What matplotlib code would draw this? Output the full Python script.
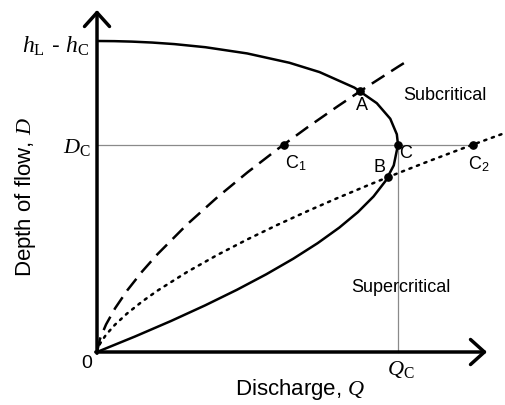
import matplotlib
matplotlib.use("Agg")
import matplotlib.pyplot as plt

plt.rcParams['font.family'] = ['Liberation Sans', 'DejaVu Sans']
plt.rcParams['mathtext.fontset'] = 'custom'
plt.rcParams['mathtext.rm'] = 'Liberation Serif'
plt.rcParams['mathtext.it'] = 'Liberation Serif:italic'
plt.rcParams['mathtext.sf'] = 'Liberation Sans'

# ---- data (Q normalised so Q_C = 1, D normalised so h_L - h_C = 1) ----
D_C = 0.6667
Q_C = 1.0

# solid curve (Q, D)
solid_D = [0, 0.05, 0.1, 0.15, 0.2, 0.25, 0.3, 0.35, 0.4, 0.45, 0.5, 0.55, 0.6,
           0.6667, 0.7, 0.75, 0.8, 0.85, 0.9, 0.93, 0.96, 0.98, 0.99, 0.995,
           0.998, 0.9995, 1.0]
solid_Q = [0, 0.1266, 0.2465, 0.3593, 0.4648, 0.5625, 0.6521, 0.7331, 0.8050,
           0.8671, 0.9186, 0.9586, 0.9859, 1.0, 0.9961, 0.9743, 0.9296, 0.8553,
           0.7394, 0.6392, 0.4988, 0.3601, 0.2572, 0.1828, 0.1160, 0.0581, 0]

# dashed curve
dash_Q = [0, 0.01, 0.03, 0.06, 0.1, 0.15, 0.2, 0.3, 0.4, 0.5, 0.6, 0.7, 0.8,
          0.875, 0.9, 1.0, 1.04]
dash_D = [0, 0.0426, 0.0885, 0.1405, 0.1976, 0.2589, 0.3136, 0.4109, 0.4978,
          0.5777, 0.6524, 0.7230, 0.7903, 0.8389, 0.8548, 0.917, 0.9413]

# dotted curve
dot_Q = [0, 0.01, 0.03, 0.06, 0.1, 0.15, 0.2, 0.3, 0.4, 0.5, 0.6, 0.7, 0.8,
         0.9, 0.967, 1.0, 1.1, 1.2, 1.249, 1.3, 1.36]
dot_D = [0, 0.0267, 0.0555, 0.0881, 0.1239, 0.1623, 0.1967, 0.2577, 0.3122,
         0.3623, 0.4091, 0.4533, 0.4955, 0.5360, 0.5623, 0.575, 0.6127, 0.6493,
         0.6668, 0.6849, 0.7058]

# marked points
pt_names = ['A', 'B', 'C', 'C1', 'C2']
pt_Q = [0.875, 0.967, 1.0, 0.621, 1.249]
pt_D = [0.839, 0.563, 0.6667, 0.6667, 0.6667]

W, H = 506, 405
fig = plt.figure(figsize=(W / 100, H / 100), dpi=100)
ax = fig.add_axes([0, 0, 1, 1])
ax.set_xlim(-0.3223, 1.3588)
ax.set_ylim(-0.1704, 1.1318)
ax.axis('off')

# guide lines
ax.plot([0, pt_Q[4]], [D_C, D_C], color='#8a8a8a', lw=0.9, zorder=1)
ax.plot([Q_C, Q_C], [0, D_C], color='#8a8a8a', lw=0.9, zorder=1)

# curves
ax.plot(solid_Q, solid_D, color='black', lw=1.8, zorder=3, solid_capstyle='butt')
ax.plot(dash_Q, dash_D, color='black', lw=1.8, dashes=(6, 3.2), zorder=3)
ax.plot(dot_Q, dot_D, color='black', lw=1.8, linestyle=(0, (0.9, 2.3)),
        dash_capstyle='round', zorder=3)

ax.plot(pt_Q, pt_D, 'o', color='black', ms=5.2, zorder=4)

# axes with arrows
arrow = dict(arrowstyle='->, head_length=1.0, head_width=0.9', lw=2.5,
             color='black', shrinkA=0, shrinkB=0, mutation_scale=10)
ax.annotate('', xy=(0, 1.0997), xytext=(0, -0.004), arrowprops=arrow, zorder=5)
ax.annotate('', xy=(1.2957, 0), xytext=(-0.004, 0), arrowprops=arrow, zorder=5)

def px(x, y):
    return x / W, 1 - y / H

def ftext(x, y, s, **kw):
    fig.text(*px(x, y), s, **kw)

ftext(89, 46, r'$h_{\mathrm{L}}$ - $h_{\mathrm{C}}$', ha='right', va='center', fontsize=17)
ftext(91, 147, r'$D_{\mathrm{C}}$', ha='right', va='center', fontsize=16)
ftext(87, 364, '0', ha='center', va='center', fontsize=14)
ftext(401, 370, r'$Q_{\mathrm{C}}$', ha='center', va='center', fontsize=16)
ftext(300, 390, r'Discharge, $Q$', ha='center', va='center', fontsize=16)
ftext(26, 197, r'Depth of flow, $D$', ha='center', va='center', fontsize=16,
      rotation=90)
ftext(445, 96, 'Subcritical', ha='center', va='center', fontsize=13)
ftext(401, 287, 'Supercritical', ha='center', va='center', fontsize=13)

ftext(362, 105, 'A', ha='center', va='center', fontsize=13)
ftext(380, 168, 'B', ha='center', va='center', fontsize=13)
ftext(406, 153, 'C', ha='center', va='center', fontsize=13)
ftext(285, 163, r'C$_{\mathsf{1}}$', ha='left', va='center', fontsize=13)
ftext(468, 164, r'C$_{\mathsf{2}}$', ha='left', va='center', fontsize=13)

fig.savefig('out.png', dpi=100)
